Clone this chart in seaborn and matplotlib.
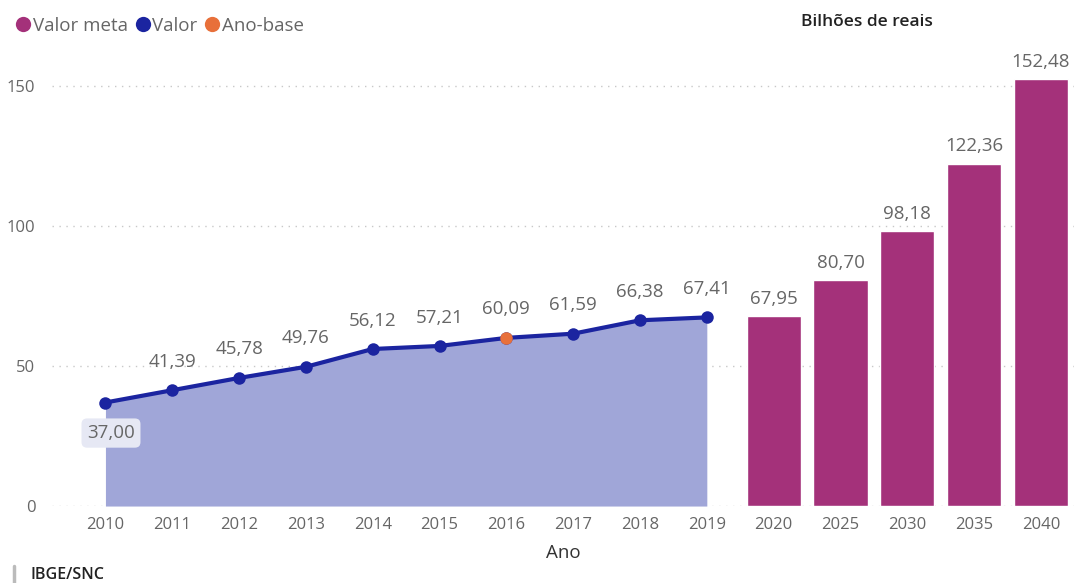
import numpy as np
import pandas as pd
import matplotlib.pyplot as plt
from matplotlib.lines import Line2D
import seaborn as sns

sns.set_theme(style="white")
plt.rcParams['font.family'] = ['Open Sans', 'DejaVu Sans']

# data
anos_valor = ['2010', '2011', '2012', '2013', '2014', '2015', '2016', '2017', '2018', '2019']
valor = [37.00, 41.39, 45.78, 49.76, 56.12, 57.21, 60.09, 61.59, 66.38, 67.41]
anos_meta = ['2020', '2025', '2030', '2035', '2040']
valor_meta = [67.95, 80.70, 98.18, 122.36, 152.48]
ano_base = '2016'

todos = anos_valor + anos_meta
pos = {a: i for i, a in enumerate(todos)}

df_valor = pd.DataFrame({'ano': anos_valor, 'valor': valor})
df_valor['x'] = df_valor['ano'].map(pos)
df_meta = pd.DataFrame({'ano': anos_meta, 'valor': valor_meta})
df_meta['x'] = df_meta['ano'].map(pos)

c_meta = '#A4317A'
c_valor = '#1B24A0'
c_area = '#A0A6D8'
c_base = '#E8703A'
c_txt = '#666666'

fig = plt.figure(figsize=(10.83, 5.83), dpi=100)
ax = fig.add_axes([0.048, 0.132, 0.944, 0.744])

# grid
for g in [0, 50, 100, 150]:
    ax.axhline(g, color='#C8C8C8', lw=1, ls=(0, (1, 4)), zorder=0)

# area + line
ax.fill_between(df_valor['x'], 0, df_valor['valor'], color=c_area, lw=0, zorder=1)
sns.lineplot(data=df_valor, x='x', y='valor', color=c_valor, lw=3, marker='o',
             markersize=9, markeredgewidth=0, ax=ax, zorder=3)
b = df_valor[df_valor['ano'] == ano_base]
ax.plot(b['x'], b['valor'], 'o', color=c_base, markersize=9, markeredgewidth=0, zorder=4)

# bars
sns.barplot(data=df_meta, x='x', y='valor', native_scale=True, color=c_meta,
            saturation=1, width=0.81, ax=ax, zorder=2)

# value labels
for i, r in df_valor.iterrows():
    txt = f"{r['valor']:.2f}".replace('.', ',')
    if i == 0:
        ax.annotate(txt, (r['x'], r['valor']), xytext=(4, -22), textcoords='offset points',
                    ha='center', va='center', fontsize=13.5, color=c_txt,
                    bbox=dict(boxstyle='round,pad=0.3', fc='#E6E8F4', ec='none'), zorder=5)
    else:
        ax.annotate(txt, (r['x'], r['valor']), xytext=(0, 14), textcoords='offset points',
                    ha='center', va='bottom', fontsize=13.5, color=c_txt)
for i, r in df_meta.iterrows():
    txt = f"{r['valor']:.2f}".replace('.', ',')
    ax.annotate(txt, (r['x'], r['valor']), xytext=(0, 6), textcoords='offset points',
                ha='center', va='bottom', fontsize=13.5, color=c_txt)

ax.set_xlim(-0.8, 14.5)
ax.set_ylim(0, 155)
ax.set_xticks(range(len(todos)))
ax.set_xticklabels(todos)
ax.set_yticks([0, 50, 100, 150])
ax.tick_params(axis='both', colors=c_txt, labelsize=12, length=0)
ax.tick_params(axis='x', pad=8)
ax.tick_params(axis='y', pad=12)
ax.set_xlabel('Ano', fontsize=13.5, color='#333333', labelpad=8)
ax.set_ylabel('')
sns.despine(ax=ax, left=True, bottom=True)

# legend
handles = [Line2D([], [], marker='o', ls='', color=c, markersize=11, markeredgewidth=0)
           for c in [c_meta, c_valor, c_base]]
fig.legend(handles, ['Valor meta', 'Valor', 'Ano-base'], loc='upper left',
           bbox_to_anchor=(0.0, 1.0), ncol=3, frameon=False, fontsize=13.5,
           handlelength=0.7, handletextpad=0.15, columnspacing=0.45,
           borderpad=0.4, labelcolor=c_txt)

fig.text(0.74, 0.962, 'Bilhões de reais', fontsize=12.5, color='#222222',
         fontweight='semibold', va='center')
fig.text(0.028, 0.0, 'IBGE/SNC', fontsize=11.5, color='#222222',
         fontweight='semibold', va='bottom')
fig.add_artist(Line2D([0.013, 0.013], [0.0, 0.03], color='#BBBBBB', lw=2.5))

plt.savefig('out.png', dpi=100)
